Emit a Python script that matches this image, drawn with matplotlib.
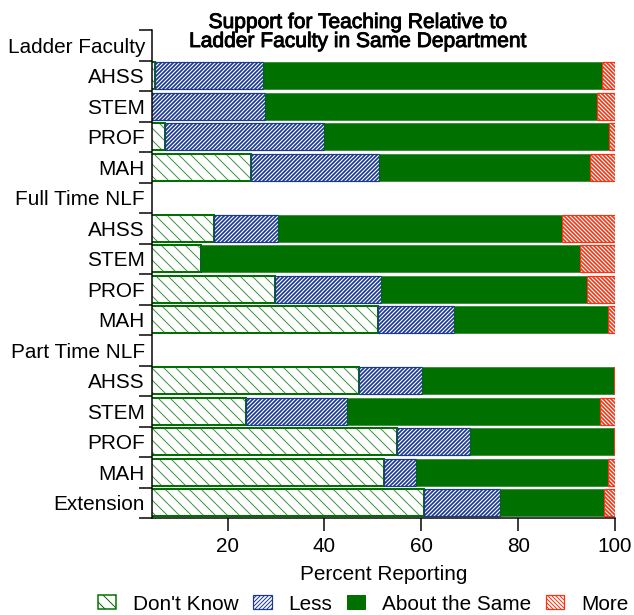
import matplotlib
matplotlib.use("Agg")
import matplotlib.pyplot as plt
import matplotlib.patheffects as pe
from matplotlib.patches import Patch
import numpy as np

plt.rcParams['font.family'] = ['Liberation Sans', 'DejaVu Sans']

# row labels top to bottom; group headers carry no bar
row_labels = ['Ladder Faculty', 'AHSS', 'STEM', 'PROF', 'MAH',
              'Full Time NLF', 'AHSS', 'STEM', 'PROF', 'MAH',
              'Part Time NLF', 'AHSS', 'STEM', 'PROF', 'MAH', 'Extension']
headers = ['Ladder Faculty', 'Full Time NLF', 'Part Time NLF']

# percent reporting, one value per bar (13 bars, top to bottom)
dont_know = [5.0, 3.0, 7.0, 24.9, 17.3, 14.5, 29.9, 51.0, 47.2, 23.9, 54.9, 52.4, 60.6]
less = [22.3, 24.7, 32.9, 26.4, 13.1, 0.0, 21.7, 15.8, 12.9, 20.7, 15.1, 6.5, 15.7]
same = [70.0, 68.6, 58.9, 43.6, 58.6, 78.2, 42.6, 31.8, 39.6, 52.3, 29.8, 39.7, 21.5]
more = [2.7, 3.7, 1.2, 5.1, 11.0, 7.3, 5.8, 1.4, 0.3, 3.1, 0.2, 1.4, 2.2]

series = ["Don't Know", 'Less', 'About the Same', 'More']

GREEN = '#007000'
LIGHT_GREEN = '#3c963c'
NAVY = '#1c3a8c'
RED = '#ff3010'

DK_HATCH = '\\\\'
LS_HATCH = '//////'
MR_HATCH = '\\\\\\\\\\\\'

dpi = 72
fig = plt.figure(figsize=(634 / dpi, 615 / dpi), dpi=dpi)
ax = fig.add_axes([152 / 634, 1 - 518 / 615, (615 - 152) / 634, 488 / 615])

ypos = np.array([i for i, lab in enumerate(row_labels) if lab not in headers])
h = 0.88

dk = np.array(dont_know)
ls = np.array(less)
sm = np.array(same)
mr = np.array(more)

with plt.rc_context({'hatch.linewidth': 1.0}):
    ax.barh(ypos, dk, height=h, left=0, color='white', edgecolor=LIGHT_GREEN,
            hatch=DK_HATCH, linewidth=0)
ax.barh(ypos, dk, height=h, left=0, fill=False, edgecolor=GREEN, linewidth=2)
with plt.rc_context({'hatch.linewidth': 1.7}):
    ax.barh(ypos, ls, height=h, left=dk, color='white', edgecolor=NAVY,
            hatch=LS_HATCH, linewidth=1.2)
ax.barh(ypos, sm, height=h, left=dk + ls, color=GREEN, edgecolor=GREEN, linewidth=0.5)
with plt.rc_context({'hatch.linewidth': 1.7}):
    ax.barh(ypos, mr, height=h, left=dk + ls + sm, color='white', edgecolor=RED,
            hatch=MR_HATCH, linewidth=1.2)

ax.set_xlim(4.4, 100)
ax.set_ylim(len(row_labels) - 0.5, -0.5)
ax.spines['top'].set_visible(False)
ax.spines['right'].set_visible(False)
ax.spines['left'].set_linewidth(1.5)
ax.spines['bottom'].set_linewidth(1.5)

ax.set_yticks(np.arange(len(row_labels)))
ax.set_yticklabels(row_labels, fontsize=20.8)
ax.set_yticks(np.arange(len(row_labels) + 1) - 0.5, minor=True)
ax.tick_params(axis='y', which='major', length=0, pad=7)
ax.tick_params(axis='y', which='minor', length=13, width=1.5)

ax.set_xticks([20, 40, 60, 80, 100])
ax.tick_params(axis='x', length=13, width=1.5, labelsize=20.8, pad=6)
ax.set_xlabel('Percent Reporting', fontsize=20.8, labelpad=9)

fig.text(358 / 634, 1 - 32 / 615,
         'Support for Teaching Relative to\nLadder Faculty in Same Department',
         ha='center', va='center', fontsize=21, linespacing=1.0,
         path_effects=[pe.withStroke(linewidth=0.9, foreground='black')])

with plt.rc_context({'hatch.linewidth': 1.0}):
    h_dk = Patch(facecolor='white', edgecolor=GREEN, hatch=DK_HATCH, linewidth=1.5)
with plt.rc_context({'hatch.linewidth': 1.7}):
    h_ls = Patch(facecolor='white', edgecolor=NAVY, hatch=LS_HATCH, linewidth=1.2)
    h_mr = Patch(facecolor='white', edgecolor=RED, hatch=MR_HATCH, linewidth=1.2)
h_sm = Patch(facecolor=GREEN, edgecolor=GREEN)

fig.legend([h_dk, h_ls, h_sm, h_mr], series, loc='center', ncol=4,
           bbox_to_anchor=(363 / 634, 1 - 604 / 615), frameon=False, fontsize=20.8,
           handlelength=0.88, handleheight=0.68, handletextpad=0.8,
           columnspacing=0.72, borderpad=0)

fig.savefig('out.png', dpi=dpi)
